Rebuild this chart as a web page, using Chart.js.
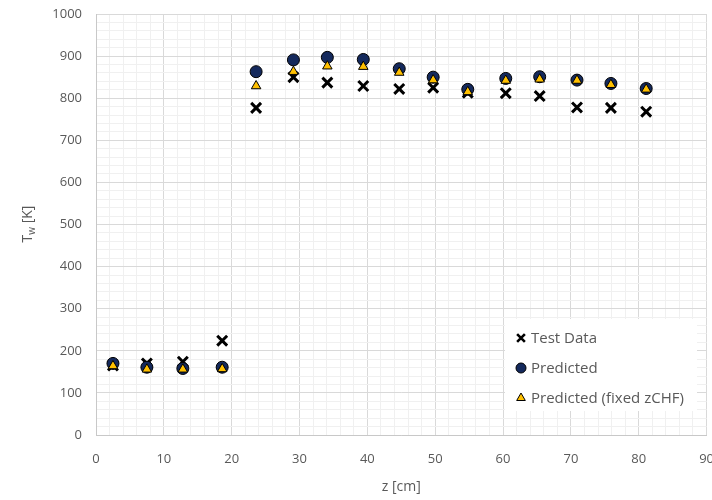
<!DOCTYPE html>
<html lang="en">
<head>
    <meta charset="UTF-8">
    <title>Wall temperature</title>
    <script src="https://cdn.jsdelivr.net/npm/chart.js"></script>
    <style>
        html, body {
            margin: 0;
            padding: 0;
            background: #ffffff;
            overflow: hidden;
        }
        .wrap {
            width: 730px;
            height: 500px;
            position: relative;
        }
    </style>
</head>
<body>
<div class="wrap">
    <canvas id="twChart"></canvas>
</div>
<script>
    // positions along the tube, cm
    const zCm = [2.5, 7.5, 12.8, 18.6, 23.6, 29.1, 34.1, 39.4, 44.7, 49.7, 54.8, 60.4, 65.4, 70.9, 75.9, 81.1];
    // wall temperature, K
    const testData = [165, 170, 174, 224, 777, 850, 837, 829, 822, 825, 813, 812, 805, 778, 777, 768];
    const predicted = [170, 161, 158, 161, 863, 891, 897, 892, 870, 850, 821, 847, 851, 843, 835, 823];
    const predictedFixed = [164, 156, 156, 157, 829, 863, 876, 875, 861, 843, 815, 842, 845, 842, 832, 821];
    const seriesNames = ['Test Data', 'Predicted', 'Predicted (fixed zCHF)'];

    const xMax = 90, yMax = 1000;
    const fontFam = '"Open Sans", "Liberation Sans", sans-serif';
    const textCol = '#595959';

    function toPoints(vals) {
        return zCm.map((z, i) => ({ x: z, y: vals[i] }));
    }

    const styles = [
        { pointStyle: 'crossRot', pointRadius: 7, borderColor: '#000000', backgroundColor: '#000000', pointBorderWidth: 3 },
        { pointStyle: 'circle', pointRadius: 6, borderColor: '#000000', backgroundColor: '#14295c', pointBorderWidth: 1 },
        { pointStyle: 'triangle', pointRadius: 5.5, borderColor: '#000000', backgroundColor: '#ffc000', pointBorderWidth: 1 }
    ];
    const allVals = [testData, predicted, predictedFixed];

    const datasets = allVals.map((vals, i) => Object.assign({
        label: seriesNames[i],
        data: toPoints(vals),
        showLine: false,
        order: 3 - i,
        pointHoverRadius: styles[i].pointRadius
    }, styles[i]));

    // axis titles and legend box drawn on the canvas
    const extras = {
        id: 'extras',
        afterDatasetsDraw(chart) {
            const ctx = chart.ctx;
            const area = chart.chartArea;
            ctx.save();
            ctx.fillStyle = textCol;

            // x title
            ctx.font = '14px ' + fontFam;
            ctx.textAlign = 'center';
            ctx.textBaseline = 'middle';
            ctx.fillText('z [cm]', (area.left + area.right) / 2, 487);

            // y title with subscript
            ctx.save();
            ctx.translate(27, 224);
            ctx.rotate(-Math.PI / 2);
            ctx.textAlign = 'left';
            ctx.textBaseline = 'alphabetic';
            const big = '14px ' + fontFam, small = '10px ' + fontFam;
            ctx.font = big;
            const wT = ctx.measureText('T').width;
            const rest = ' [K]';
            const wRest = ctx.measureText(rest).width;
            ctx.font = small;
            const wW = ctx.measureText('w').width;
            let x0 = -(wT + wW + wRest) / 2;
            ctx.font = big;
            ctx.fillText('T', x0, 5);
            ctx.font = small;
            ctx.fillText('w', x0 + wT, 8);
            ctx.font = big;
            ctx.fillText(rest, x0 + wT + wW, 5);
            ctx.restore();

            // legend
            ctx.fillStyle = '#ffffff';
            ctx.fillRect(505, 319, 192, 92);
            ctx.font = '15px ' + fontFam;
            ctx.textAlign = 'left';
            ctx.textBaseline = 'middle';
            const rowY = [338, 368, 398];
            chart.data.datasets.forEach((ds, i) => {
                const y = rowY[i];
                const st = {
                    pointStyle: ds.pointStyle,
                    radius: ds.pointStyle === 'crossRot' ? 5.5 : 5,
                    rotation: 0,
                    borderWidth: ds.pointStyle === 'crossRot' ? 2.6 : 1
                };
                ctx.fillStyle = ds.backgroundColor;
                ctx.strokeStyle = ds.borderColor;
                ctx.lineWidth = st.borderWidth;
                Chart.helpers.drawPoint(ctx, st, 521, y);
                ctx.fillStyle = textCol;
                ctx.fillText(ds.label, 531, y + 1);
            });
            ctx.restore();
        }
    };

    new Chart(document.getElementById('twChart'), {
        type: 'scatter',
        data: { datasets: datasets },
        options: {
            responsive: true,
            maintainAspectRatio: false,
            animation: false,
            layout: { padding: 0 },
            plugins: {
                legend: { display: false },
                tooltip: { enabled: false }
            },
            scales: {
                x: {
                    type: 'linear',
                    min: 0,
                    max: xMax,
                    afterFit(scale) { scale.height = 65; },
                    ticks: {
                        stepSize: 2,
                        autoSkip: false,
                        maxRotation: 0,
                        padding: 16,
                        color: textCol,
                        font: { family: fontFam, size: 13 },
                        callback: (v) => (v % 10 === 0 ? v : '')
                    },
                    grid: {
                        drawTicks: false,
                        color: (c) => (c.tick && c.tick.value % 10 === 0 ? '#d9d9d9' : '#f0f0f0'),
                        lineWidth: 1
                    },
                    border: { color: '#c8c8c8' }
                },
                y: {
                    type: 'linear',
                    min: 0,
                    max: yMax,
                    afterFit(scale) {
                        scale.width = 96;
                        scale.paddingTop = 14;
                        scale.paddingBottom = 0;
                    },
                    ticks: {
                        stepSize: 20,
                        autoSkip: false,
                        padding: 14,
                        color: textCol,
                        font: { family: fontFam, size: 13 },
                        callback: (v) => (v % 100 === 0 ? v : '')
                    },
                    grid: {
                        drawTicks: false,
                        color: (c) => (c.tick && c.tick.value % 100 === 0 ? '#d9d9d9' : '#f0f0f0'),
                        lineWidth: 1
                    },
                    border: { color: '#c8c8c8' }
                }
            }
        },
        plugins: [extras]
    });
</script>
</body>
</html>
